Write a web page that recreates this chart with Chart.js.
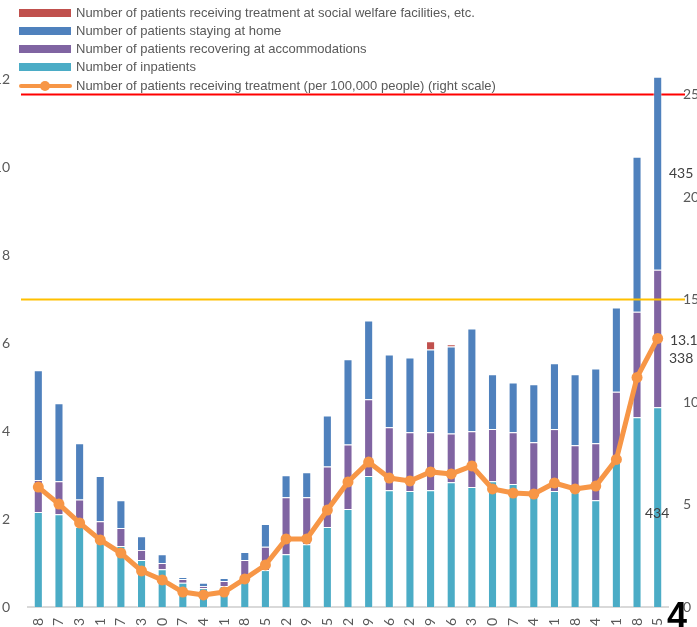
<!DOCTYPE html>
<html>
<head>
<meta charset="utf-8">
<script src="https://cdn.jsdelivr.net/npm/chart.js@4/dist/chart.umd.min.js"></script>
<style>
    html, body { margin: 0; padding: 0; background: #fff; }
    body { position: relative; width: 697px; height: 627px; overflow: hidden; }
    #wrap { position: absolute; left: -20px; top: -40px; width: 738px; height: 707px; }
    #legend { position: absolute; left: 0; top: 0; font-family: "Liberation Sans", Arial, sans-serif; font-size: 13px; color: #595959; }
    .leg-row { position: absolute; left: 19px; height: 18px; white-space: nowrap; }
    .leg-sw { position: absolute; left: 0; width: 52px; height: 8px; top: 5px; }
    .leg-txt { position: absolute; left: 57px; top: 0; line-height: 18px; }
    .note { position: absolute; font-family: Lato, "Open Sans", sans-serif; font-size: 14px; color: #404040; line-height: 16px; }
</style>
</head>
<body>
<div id="wrap"><canvas id="chart" width="738" height="707"></canvas></div>
<div id="legend"></div>
<div class="note" style="left:669px; top:165px;">435</div>
<div class="note" style="left:670px; top:332px;">13.1</div>
<div class="note" style="left:669px; top:350px;">338</div>
<div class="note" style="left:645px; top:505px;">434</div>
<div style="position:absolute; left:667px; top:598px; font: bold 36px 'Liberation Sans', Arial, sans-serif; color:#000; line-height:36px;">4</div>
<script>
// --- Datos ---
const labels = ['4/28', '5/7', '5/13', '5/21', '5/27', '6/3', '6/10', '6/17', '6/24', '7/1',
    '7/8', '7/15', '7/22', '7/29', '8/5', '8/12', '8/19', '8/26', '9/2', '9/9',
    '9/16', '9/23', '9/30', '10/7', '10/14', '10/21', '10/28', '11/4', '11/11', '11/18', '11/25'];

const inpatients = [2.16, 2.11, 1.82, 1.61, 1.39, 1.07, 0.86, 0.55, 0.43, 0.48,
    0.60, 0.84, 1.20, 1.43, 1.82, 2.23, 2.98, 2.66, 2.64, 2.66,
    2.84, 2.73, 2.86, 2.80, 2.55, 2.64, 2.61, 2.43, 3.39, 4.32, 4.55];

const accommodations = [0.73, 0.75, 0.63, 0.34, 0.41, 0.23, 0.14, 0.09, 0.05, 0.11,
    0.47, 0.53, 1.30, 1.07, 1.38, 1.47, 1.75, 1.43, 1.34, 1.32,
    1.11, 1.27, 1.19, 1.18, 1.20, 1.41, 1.07, 1.30, 1.51, 2.40, 3.13];

const atHome = [2.50, 1.78, 1.28, 1.03, 0.63, 0.31, 0.20, 0.04, 0.07, 0.07,
    0.18, 0.52, 0.50, 0.57, 1.16, 1.94, 1.79, 1.66, 1.70, 1.88,
    1.98, 2.34, 1.25, 1.13, 1.32, 1.50, 1.62, 1.70, 1.92, 3.53, 4.39];

const welfare = [0, 0, 0, 0, 0, 0, 0, 0, 0, 0,
    0, 0, 0, 0, 0, 0, 0, 0, 0, 0.19,
    0.05, 0, 0, 0, 0, 0, 0, 0, 0, 0, 0];

const per100k = [5.85, 5.02, 4.10, 3.27, 2.63, 1.76, 1.32, 0.73, 0.59, 0.73,
    1.37, 2.05, 3.32, 3.32, 4.73, 6.10, 7.07, 6.29, 6.15, 6.59,
    6.49, 6.88, 5.76, 5.56, 5.51, 6.05, 5.76, 5.90, 7.20, 11.20, 13.10];

// niveles de referencia (escala derecha)
const stageLevels = [
    { value: 25, color: '#ff0000', over: false },
    { value: 15, color: '#ffc000', over: true }
];

const gray = '#595959';
const tickFont = { family: 'Lato', size: 14 };

// --- Líneas horizontales de nivel ---
function drawLevels(chart, over) {
    const ctx = chart.ctx;
    const y1 = chart.scales.y1;
    const area = chart.chartArea;
    stageLevels.filter(l => l.over === over).forEach(l => {
        const y = y1.getPixelForValue(l.value);
        ctx.save();
        ctx.strokeStyle = l.color;
        ctx.lineWidth = 2;
        ctx.beginPath();
        ctx.moveTo(area.left - 7, y);
        ctx.lineTo(area.right + 17, y);
        ctx.stroke();
        ctx.restore();
    });
}

const levelsPlugin = {
    id: 'levels',
    beforeDatasetsDraw(chart) { drawLevels(chart, false); },
    afterDatasetsDraw(chart) { drawLevels(chart, true); }
};

const barCommon = {
    type: 'bar',
    stack: 'pts',
    yAxisID: 'y',
    order: 1,
    categoryPercentage: 1,
    barPercentage: 0.44,
    borderWidth: 1,
    borderColor: 'rgba(255,255,255,0.35)'
};

const chart = new Chart(document.getElementById('chart'), {
    data: {
        labels: labels,
        datasets: [
            { ...barCommon, label: 'Number of inpatients', data: inpatients, backgroundColor: '#4bacc6' },
            { ...barCommon, label: 'Number of patients recovering at accommodations', data: accommodations, backgroundColor: '#8064a2' },
            { ...barCommon, label: 'Number of patients staying at home', data: atHome, backgroundColor: '#4f81bd' },
            { ...barCommon, label: 'Number of patients receiving treatment at social welfare facilities, etc.', data: welfare, backgroundColor: '#c0504d' },
            {
                type: 'line',
                label: 'Number of patients receiving treatment (per 100,000 people) (right scale)',
                data: per100k,
                yAxisID: 'y1',
                order: 0,
                borderColor: '#f79646',
                backgroundColor: '#f79646',
                borderWidth: 5,
                pointRadius: 5.5,
                pointBorderWidth: 0,
                pointBackgroundColor: '#f79646',
                tension: 0
            }
        ]
    },
    options: {
        responsive: false,
        animation: false,
        devicePixelRatio: 1,
        layout: { padding: { top: 32, left: 0, right: 0, bottom: 0 } },
        plugins: {
            legend: { display: false },
            tooltip: { enabled: false }
        },
        scales: {
            x: {
                stacked: true,
                grid: { display: false, drawTicks: false },
                border: { display: true, color: '#d9d9d9', width: 2 },
                ticks: { color: gray, font: tickFont, maxRotation: 90, minRotation: 90, autoSkip: false, padding: 11 },
                afterFit: s => { s.height = 60; }
            },
            y: {
                stacked: true,
                position: 'left',
                min: 0, max: 14,
                grid: { display: false, drawTicks: false },
                border: { display: false },
                ticks: { stepSize: 2, color: gray, font: tickFont, padding: 18 },
                afterFit: s => { s.width = 48; }
            },
            y1: {
                position: 'right',
                min: 0, max: 30,
                grid: { display: false, drawTicks: false },
                border: { display: false },
                ticks: { stepSize: 5, color: gray, font: tickFont, padding: 15 },
                afterFit: s => { s.width = 50; }
            }
        }
    },
    plugins: [levelsPlugin]
});

// --- Leyenda (orden como en la figura) ---
const legendEl = document.getElementById('legend');
const legendOrder = [3, 2, 1, 0, 4];
const rowTops = [4, 22, 40, 58, 77];
legendOrder.forEach((idx, i) => {
    const ds = chart.data.datasets[idx];
    const row = document.createElement('div');
    row.className = 'leg-row';
    row.style.top = rowTops[i] + 'px';
    if (ds.type === 'line') {
        row.innerHTML = '<div style="position:absolute;left:0;top:7px;width:53px;height:4px;border-radius:2px;background:' + ds.borderColor + '"></div>' +
            '<div style="position:absolute;left:21px;top:4px;width:10px;height:10px;border-radius:5px;background:' + ds.borderColor + '"></div>';
    } else {
        row.innerHTML = '<div class="leg-sw" style="background:' + ds.backgroundColor + '"></div>';
    }
    const txt = document.createElement('div');
    txt.className = 'leg-txt';
    txt.textContent = ds.label;
    row.appendChild(txt);
    legendEl.appendChild(row);
});
</script>
</body>
</html>
